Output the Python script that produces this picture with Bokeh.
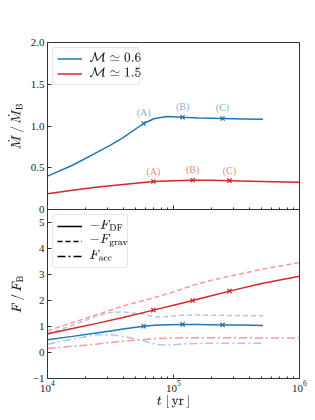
from bokeh.plotting import figure
from bokeh.layouts import column
from bokeh.models import (Range1d, CustomJSTickFormatter, Legend, LegendItem,
                          FixedTicker, ColumnDataSource, Label)
from bokeh.embed import file_html
from bokeh.resources import INLINE
from bokeh.core.properties import value

BLUE = "#1f77b4"
RED = "#d62728"
LBLUE = "#aec7e8"
LRED = "#ff9896"
FONT = "Liberation Serif"

# ---- data ----
t_blue = [1.0e4, 1.58e4, 2.51e4, 3.16e4, 3.98e4, 5.79e4, 7.08e4, 8.91e4,
          1.18e5, 1.58e5, 2.45e5, 3.55e5, 5.13e5]
mdot_blue = [0.40, 0.53, 0.69, 0.77, 0.86, 1.03, 1.09, 1.115, 1.105, 1.095,
             1.09, 1.085, 1.08]
fdf_blue = [0.49, 0.62, 0.76, 0.83, 0.90, 1.01, 1.05, 1.07, 1.08, 1.075,
            1.06, 1.06, 1.04]
fgrav_blue = [0.70, 1.05, 1.42, 1.54, 1.56, 1.47, 1.36, 1.38, 1.43, 1.44,
              1.43, 1.42, 1.41]
facc_blue = [0.32, 0.52, 0.69, 0.68, 0.62, 0.45, 0.32, 0.28, 0.33, 0.35,
             0.36, 0.36, 0.36]

t_red = [1.0e4, 1.58e4, 2.51e4, 3.98e4, 6.93e4, 1.0e5, 1.42e5, 2.0e5,
         2.78e5, 5.0e5, 1.0e6]
mdot_red = [0.19, 0.23, 0.27, 0.30, 0.335, 0.345, 0.35, 0.35, 0.345, 0.335,
            0.325]
fdf_red = [0.72, 0.92, 1.13, 1.35, 1.63, 1.82, 2.0, 2.18, 2.36, 2.65, 2.93]
fgrav_red = [0.83, 1.15, 1.47, 1.79, 2.1, 2.33, 2.58, 2.78, 2.93, 3.2, 3.46]
facc_red = [0.15, 0.24, 0.33, 0.44, 0.53, 0.56, 0.57, 0.57, 0.57, 0.56, 0.56]

mark_labels = ["(A)", "(B)", "(C)"]
idx_blue = [5, 8, 10]
idx_red = [4, 6, 8]

top_ticks = [0, 0.5, 1.0, 1.5, 2.0]
bot_ticks = [-1, 0, 1, 2, 3, 4, 5]
x_major = [1e4, 1e5, 1e6]
x_minor = [m * 10 ** e for e in (4, 5) for m in range(2, 10)]

top_legend = [r"$$\mathcal{M}\simeq 0.6$$", r"$$\mathcal{M}\simeq 1.5$$"]
bot_legend = [r"$$-F_{\rm DF}$$", r"$$-F_{\rm grav}$$", r"$$F_{\rm acc}$$"]

FW = 252
FH1 = 167
FH2 = 169
GAP = 16   # bottom border of the top panel, overlapped by the lower panel


def style(p):
    p.xgrid.visible = False
    p.ygrid.visible = False
    p.outline_line_color = "#333333"
    p.outline_line_width = 1
    for ax in p.xaxis + p.yaxis:
        ax.axis_line_color = "#333333"
        ax.major_tick_in = 4
        ax.major_tick_out = 0
        ax.minor_tick_in = 2
        ax.minor_tick_out = 0
        ax.major_tick_line_color = "#333333"
        ax.minor_tick_line_color = "#333333"
        ax.major_label_text_font = FONT
        ax.major_label_text_font_size = "11px"
        ax.major_label_text_color = "#222222"
        ax.axis_label_text_font = FONT
        ax.axis_label_text_font_style = "normal"
        ax.axis_label_text_font_size = "13px"
        ax.axis_label_text_color = "#222222"
    for ax in p.xaxis:
        ax.ticker = FixedTicker(ticks=x_major, minor_ticks=x_minor)
    for ax in p.yaxis:
        ax.minor_tick_line_color = None
        ax.major_label_standoff = 3
        ax.axis_label_standoff = 4


def legend_labels(p, texts, centers, fh):
    for txt, c in zip(texts, centers):
        p.add_layout(Label(x=42, y=fh - c, x_units="screen", y_units="screen",
                           text=txt, text_font_size="11px",
                           text_color="#222222", text_alpha=1.0,
                           text_baseline="middle", text_align="left",
                           level="overlay"))


def make_legend(items, lh, sp, lw):
    return Legend(items=items, location="top_left", margin=5, padding=4,
                  spacing=sp, label_height=lh, glyph_height=lh,
                  glyph_width=25, label_width=lw, label_standoff=8,
                  label_text_font=FONT, label_text_font_size="11px",
                  border_line_color="#cccccc", border_radius=3,
                  background_fill_alpha=0.0, level="annotation")


# ---- top panel ----
p1 = figure(frame_width=FW, frame_height=FH1, x_axis_type="log",
            x_range=Range1d(1e4, 1e6), y_range=Range1d(0, 2),
            output_backend="svg", toolbar_location=None,
            min_border_left=47, min_border_right=16, min_border_top=42,
            min_border_bottom=GAP)
style(p1)
p1.xaxis.formatter = CustomJSTickFormatter(code="return '';")
p1.xaxis.major_label_standoff = 0
p1.yaxis.ticker = FixedTicker(ticks=top_ticks)
p1.yaxis.formatter = CustomJSTickFormatter(
    code="return tick == 0 ? '0' : tick.toFixed(1);")
p1.yaxis.axis_label = r"$$\dot{M}\,/\,\dot{M}_{\rm B}$$"

rb = p1.line(t_blue, mdot_blue, line_color=BLUE, line_width=1.5)
rr = p1.line(t_red, mdot_red, line_color=RED, line_width=1.5)

mb = ColumnDataSource(dict(t=[t_blue[i] for i in idx_blue],
                           y=[mdot_blue[i] for i in idx_blue],
                           lab=mark_labels))
mr = ColumnDataSource(dict(t=[t_red[i] for i in idx_red],
                           y=[mdot_red[i] for i in idx_red],
                           lab=mark_labels))
p1.scatter("t", "y", source=mb, marker="x", size=6, line_color=BLUE,
           line_width=1.3)
p1.scatter("t", "y", source=mr, marker="x", size=6, line_color=RED,
           line_width=1.3)
p1.text("t", "y", text="lab", source=mb, y_offset=-5, text_align="center",
        text_baseline="bottom", text_font=value(FONT), text_font_size="10px",
        text_color=BLUE, text_alpha=0.6)
p1.text("t", "y", text="lab", source=mr, y_offset=-5, text_align="center",
        text_baseline="bottom", text_font=value(FONT), text_font_size="10px",
        text_color=RED, text_alpha=0.6)

p1.add_layout(make_legend([LegendItem(label=" ", renderers=[rb]),
                           LegendItem(label=" ", renderers=[rr])], 13, 2, 45))
legend_labels(p1, top_legend, [15.5, 30.5], FH1)

# ---- bottom panel ----
p2 = figure(frame_width=FW, frame_height=FH2, x_axis_type="log",
            x_range=p1.x_range, y_range=Range1d(-1, 5.5),
            output_backend="svg", toolbar_location=None,
            min_border_left=47, min_border_right=16, min_border_top=0,
            min_border_bottom=0, margin=(-GAP, 0, 0, 0))
p2.background_fill_alpha = 0
p2.border_fill_alpha = 0
style(p2)
p2.yaxis.ticker = FixedTicker(ticks=bot_ticks)
p2.yaxis.formatter = CustomJSTickFormatter(
    code="return tick < 0 ? '\u2212' + (-tick) : '' + tick;")
p2.yaxis.axis_label = r"$$F\,/\,F_{\rm B}$$"
p2.xaxis.axis_label = r"$$t\;[\,{\rm yr}\,]$$"
p2.xaxis.major_label_standoff = 2
p2.xaxis.axis_label_standoff = 0

p2.line(t_red, fgrav_red, line_color=LRED, line_width=1.5, line_dash="5 3")
p2.line(t_red, facc_red, line_color=LRED, line_width=1.5, line_dash="8 3 2 3")
p2.line(t_blue, fgrav_blue, line_color=LBLUE, line_width=1.5, line_dash="5 3")
p2.line(t_blue, facc_blue, line_color=LBLUE, line_width=1.5, line_dash="8 3 2 3")
p2.line(t_red, fdf_red, line_color=RED, line_width=1.5)
p2.line(t_blue, fdf_blue, line_color=BLUE, line_width=1.5)

p2.scatter([t_blue[i] for i in idx_blue], [fdf_blue[i] for i in idx_blue],
           marker="x", size=6, line_color=BLUE, line_width=1.3)
p2.scatter([t_red[i] for i in idx_red], [fdf_red[i] for i in idx_red],
           marker="x", size=6, line_color=RED, line_width=1.3)

# legend proxies (outside the visible range)
g1 = p2.line([1e3, 1e3], [10, 10], line_color="black", line_width=1.5)
g2 = p2.line([1e3, 1e3], [10, 10], line_color="black", line_width=1.5,
             line_dash="5 3")
g3 = p2.line([1e3, 1e3], [10, 10], line_color="black", line_width=1.5,
             line_dash="8 3 2 3")
p2.add_layout(make_legend([LegendItem(label=" ", renderers=[g1]),
                           LegendItem(label=" ", renderers=[g2]),
                           LegendItem(label=" ", renderers=[g3])], 14, 1, 33))
legend_labels(p2, bot_legend, [16, 31, 46], FH2)

lay = column(p1, p2, spacing=0)
open("out.html", "w").write(file_html(lay, INLINE))
